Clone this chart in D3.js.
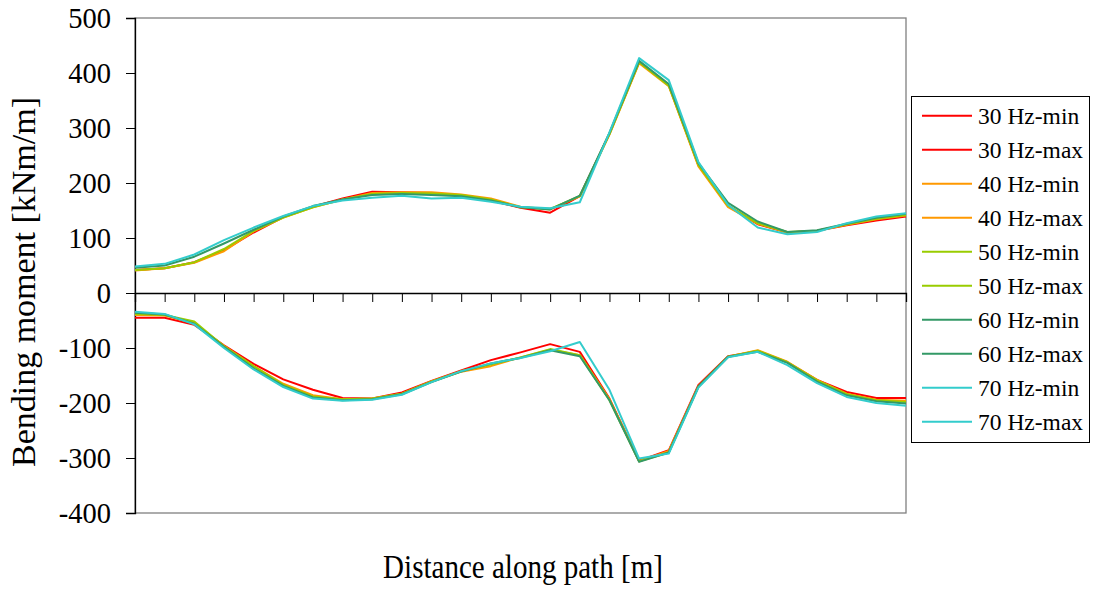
<!DOCTYPE html>
<html>
<head>
<meta charset="utf-8">
<script src="https://cdn.jsdelivr.net/npm/d3@7"></script>
<style>
  html, body { margin: 0; padding: 0; background: #fff; }
  svg { display: block; }
  svg text { font-family: "Liberation Serif", "Times New Roman", serif; fill: #000; }
</style>
</head>
<body>
<svg id="chart" width="1095" height="590"></svg>
<script>
// 27 stations along the path (category axis, no labels)
const stations = d3.range(27);

// upper envelope (max) per frequency
const max30 = [42,45,56,78,110,138,157,172,184,183,182,177,168,155,146,176,290,420,378,232,158,125,110,113,123,132,139];
const max40 = [41,45,55,76,112,137,156,170,182,183,183,179,172,157,152,176,288,418,376,230,156,126,110,113,124,134,141];
const max50 = [42,45,56,80,113,137,156,170,180,182,181,178,170,156,153,176,289,420,377,233,159,127,111,113,125,135,142];
const max60 = [46,50,66,90,115,139,158,170,178,180,178,176,168,156,152,177,291,422,380,236,164,130,111,114,126,137,144];
const max70 = [48,53,70,96,119,140,158,168,173,177,172,173,166,157,154,165,292,427,387,238,160,119,107,111,127,139,145];

// lower envelope (min) per frequency
const min30 = [-45,-45,-58,-95,-129,-157,-176,-191,-192,-181,-160,-141,-122,-108,-93,-107,-192,-305,-286,-167,-115,-106,-126,-158,-180,-191,-191];
const min40 = [-40,-41,-55,-96,-133,-165,-186,-193,-192,-183,-161,-143,-133,-117,-103,-113,-193,-306,-287,-170,-116,-104,-125,-158,-183,-194,-196];
const min50 = [-38,-40,-52,-97,-133,-167,-188,-193,-192,-183,-161,-142,-130,-117,-102,-113,-195,-306,-290,-170,-116,-105,-126,-159,-184,-195,-198];
const min60 = [-36,-39,-56,-98,-137,-169,-190,-195,-193,-184,-162,-143,-128,-118,-104,-115,-195,-307,-290,-170,-116,-107,-127,-161,-186,-197,-201];
const min70 = [-34,-38,-57,-100,-139,-171,-192,-196,-194,-185,-162,-142,-128,-118,-106,-89,-176,-301,-292,-172,-117,-107,-131,-164,-189,-200,-205];

const yTicks = [500,400,300,200,100,0,-100,-200,-300,-400];

const series = [
  { name: "30 Hz-min", values: min30, color: "#ff0000" },
  { name: "30 Hz-max", values: max30, color: "#ff0000" },
  { name: "40 Hz-min", values: min40, color: "#ff9900" },
  { name: "40 Hz-max", values: max40, color: "#ff9900" },
  { name: "50 Hz-min", values: min50, color: "#99cc00" },
  { name: "50 Hz-max", values: max50, color: "#99cc00" },
  { name: "60 Hz-min", values: min60, color: "#339966" },
  { name: "60 Hz-max", values: max60, color: "#339966" },
  { name: "70 Hz-min", values: min70, color: "#33cccc" },
  { name: "70 Hz-max", values: max70, color: "#33cccc" }
];

const svg = d3.select("#chart");
const plot = { left: 135, right: 906, top: 18, bottom: 513 };

const x = d3.scaleLinear().domain([0, stations.length - 1]).range([plot.left, plot.right]);
const y = d3.scaleLinear().domain([-400, 500]).range([plot.bottom, plot.top]);

// plot area frame
svg.append("rect")
  .attr("x", plot.left).attr("y", plot.top)
  .attr("width", plot.right - plot.left).attr("height", plot.bottom - plot.top)
  .attr("fill", "#fff").attr("stroke", "#808080").attr("stroke-width", 1.3);

// y axis (plain hyphen for negatives, like the original)
const yAxis = d3.axisLeft(y).tickValues(yTicks).tickSize(9).tickPadding(15).tickFormat(d => String(d));
const gy = svg.append("g").attr("transform", `translate(${plot.left},0)`).call(yAxis);
gy.attr("font-family", null).attr("font-size", null);
gy.select(".domain").attr("stroke", "#000").attr("stroke-width", 1.3);
gy.selectAll(".tick line").attr("stroke", "#000");
gy.selectAll(".tick text").attr("font-size", 28.5).attr("dy", "0.34em");

// x axis at zero, tick marks only
const xAxis = d3.axisBottom(x).tickValues(stations).tickSize(9).tickFormat("");
const gx = svg.append("g").attr("transform", `translate(0,${y(0)})`).call(xAxis);
gx.select(".domain").attr("stroke", "#000").attr("stroke-width", 1.3);
gx.selectAll(".tick line").attr("stroke", "#000");

// lines
const line = d3.line().x((d, i) => x(i)).y(d => y(d));
svg.append("g").selectAll("path")
  .data(series)
  .join("path")
  .attr("d", d => line(d.values))
  .attr("fill", "none")
  .attr("stroke", d => d.color)
  .attr("stroke-width", 2)
  .attr("stroke-linejoin", "round");

// axis titles
svg.append("text")
  .attr("transform", `translate(35,282) rotate(-90) scale(1.03,1)`)
  .attr("text-anchor", "middle")
  .attr("font-size", 33)
  .text("Bending moment [kNm/m]");

svg.append("text")
  .attr("transform", `translate(523,578) scale(0.88,1)`)
  .attr("text-anchor", "middle")
  .attr("font-size", 33)
  .text("Distance along path [m]");

// legend
const legend = svg.append("g");
legend.append("rect")
  .attr("x", 911.5).attr("y", 96.5).attr("width", 178).attr("height", 346)
  .attr("fill", "#fff").attr("stroke", "#000").attr("stroke-width", 1);

const item = legend.selectAll("g.item")
  .data(series)
  .join("g")
  .attr("class", "item")
  .attr("transform", (d, i) => `translate(0,${115.7 + i * 34})`);

item.append("line")
  .attr("x1", 922).attr("x2", 972)
  .attr("stroke", d => d.color).attr("stroke-width", 2);

item.append("text")
  .attr("x", 978).attr("y", 8)
  .attr("font-size", 23.5)
  .text(d => d.name);
</script>
</body>
</html>
